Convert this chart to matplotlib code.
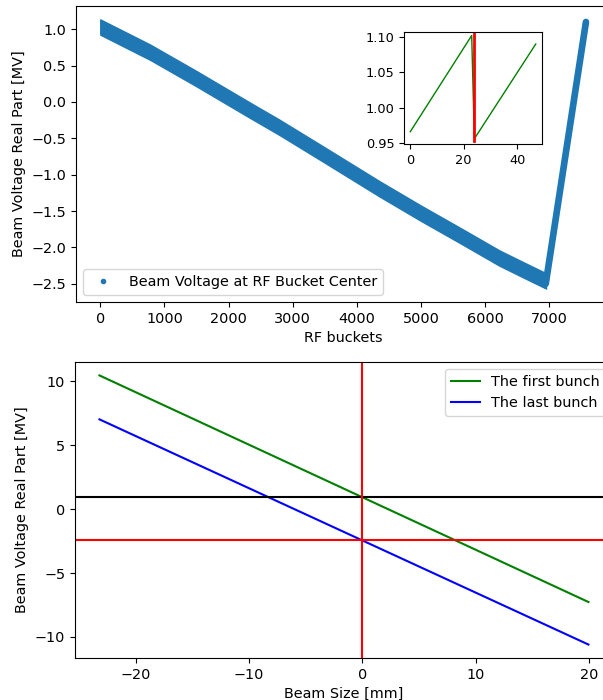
import matplotlib
matplotlib.use("Agg")
import matplotlib.pyplot as plt
from matplotlib.lines import Line2D

plt.rcParams["font.size"] = 10.35

# top panel: envelope of the beam voltage band at RF bucket centers
BAND_BUCKETS = [0, 778, 1500, 2333, 2800, 3500, 4355, 5000, 5600, 6221, 6600, 6950]
BAND_CENTER = [1.03, 0.684, 0.32, -0.113, -0.352, -0.73, -1.195, -1.53, -1.83, -2.145, -2.31, -2.46]
BAND_HALF = 0.105
# linear ramp through the last train and the abort gap
RAMP_BUCKETS = [6945, 7572]
RAMP_VOLTAGE = [-2.50, 1.10]

# inset: first two bunch trains
INSET_BUCKETS = [0, 23, 24, 47]
INSET_VOLTAGE = [0.966, 1.102, 0.956, 1.090]
INSET_MARK_BUCKET = [24, 24]
INSET_MARK_VOLTAGE = [0.953, 1.107]

# bottom panel: voltage vs beam size
BEAM_SIZE = [-23.2, 19.95]
FIRST_BUNCH = [10.47, -7.27]
LAST_BUNCH = [7.03, -10.60]
FIRST_LEVEL = 0.97
LAST_LEVEL = -2.45

BLUE = "#1f77b4"

fig = plt.figure(figsize=(6.03, 7.0), dpi=100)

ax1 = fig.add_axes([0.126, 0.5686, 0.886, 0.4229])
upper = [v + BAND_HALF for v in BAND_CENTER]
lower = [v - BAND_HALF for v in BAND_CENTER]
ax1.fill_between(BAND_BUCKETS, lower, upper, color=BLUE, linewidth=1.0,
                 edgecolor=BLUE, joinstyle="round")
ax1.plot(RAMP_BUCKETS, RAMP_VOLTAGE, color=BLUE, linewidth=4.8, solid_capstyle="round")
proxy = Line2D([], [], linestyle="none", marker=".", color=BLUE)
ax1.legend([proxy], ["Beam Voltage at RF Bucket Center"], loc="lower left")
ax1.set_xlabel("RF buckets")
ax1.set_ylabel("Beam Voltage Real Part [MV]")
ax1.set_xticks(range(0, 8000, 1000))

inset = fig.add_axes([0.670, 0.7943, 0.2289, 0.16])
inset.plot(INSET_BUCKETS, INSET_VOLTAGE, color="g", linewidth=1.0)
inset.plot(INSET_MARK_BUCKET, INSET_MARK_VOLTAGE, color="r", linewidth=2.0)
inset.set_xlim(-2.35, 49.35)
inset.set_ylim(0.9486, 1.107)
inset.set_xticks([0, 20, 40])
inset.set_yticks([0.95, 1.00, 1.05, 1.10])
inset.tick_params(labelsize=9.3)

ax2 = fig.add_axes([0.1244, 0.06, 0.892, 0.4229])
ax2.plot(BEAM_SIZE, FIRST_BUNCH, color="g", label="The first bunch")
ax2.plot(BEAM_SIZE, LAST_BUNCH, color="b", label="The last bunch")
ax2.axhline(FIRST_LEVEL, color="k")
ax2.axhline(LAST_LEVEL, color="r")
ax2.axvline(0, color="r")
ax2.set_xlabel("Beam Size [mm]")
ax2.set_ylabel("Beam Voltage Real Part [MV]")
ax2.legend(loc="upper right")

fig.savefig("out.png", dpi=100)
